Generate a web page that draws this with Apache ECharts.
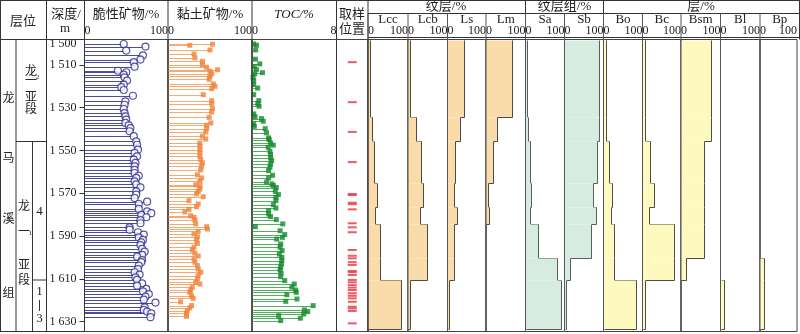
<!DOCTYPE html>
<html><head><meta charset="utf-8">
<script src="https://cdn.jsdelivr.net/npm/echarts@6/dist/echarts.min.js"></script>
<style>html,body{margin:0;padding:0;background:#fff}#c{width:800px;height:334px}</style>
</head><body><div id="c"></div>
<script>
// ---------------- data ----------------
const depthLabels = [1500, 1510, 1530, 1550, 1570, 1590, 1610, 1630];
const depthTicks = [1510, 1530, 1550, 1570, 1590, 1610, 1630];

const brittleDepth = [1500.2,1501.4,1503.3,1505.5,1507.5,1508.7,1510.8,1512.7,1513.4,1514.5,1515.8,1517.3,1519.2,1520.4,1521.7,1524.4,1527.0,1528.6,1530.6,1532.5,1534.0,1535.6,1537.1,1538.2,1539.5,1541.0,1543.3,1545.7,1547.3,1549.6,1551.1,1552.7,1554.3,1555.8,1557.4,1559.0,1560.5,1561.8,1562.8,1564.4,1565.8,1567.2,1569.1,1570.6,1572.2,1573.9,1575.0,1577.3,1578.4,1579.3,1580.1,1581.2,1582.5,1584.0,1585.9,1587.0,1588.2,1589.3,1590.6,1591.8,1592.9,1594.2,1596.0,1597.3,1598.8,1599.6,1601.2,1602.2,1603.8,1605.4,1606.9,1608.0,1609.3,1610.5,1612.1,1613.2,1614.7,1615.8,1617.1,1618.3,1619.7,1621.1,1623.3,1624.5,1625.3,1626.1,1627.9];
const brittle = [47,73,50,70,67,59,60,40,50,47,48,51,47,44,47,58,49,48,47,48,49,50,49,53,55,54,59,62,63,64,60,63,59,61,60,60,60,65,62,60,62,67,62,62,60,75,65,65,75,80,68,74,67,67,54,54,64,71,65,70,68,67,69,72,69,63,69,68,65,64,60,66,61,63,69,63,74,70,77,73,71,85,72,71,75,80,79];

const clayDepth = [1500.3,1500.8,1503.0,1504.9,1506.7,1508.3,1509.9,1511.1,1512.2,1512.9,1514.1,1515.3,1516.7,1518.9,1520.0,1521.1,1523.9,1526.7,1528.2,1530.4,1532.0,1534.5,1537.1,1538.2,1539.8,1541.3,1543.3,1544.6,1546.5,1548.0,1549.6,1551.1,1552.7,1554.3,1555.8,1557.4,1559.0,1561.3,1562.8,1564.4,1566.0,1566.6,1568.0,1569.1,1570.3,1571.6,1573.4,1575.0,1576.3,1577.5,1578.7,1580.5,1581.2,1582.5,1584.3,1585.6,1586.7,1587.8,1589.0,1590.3,1591.8,1593.4,1595.2,1596.5,1598.0,1599.3,1600.7,1602.2,1603.8,1605.4,1606.9,1608.5,1610.1,1611.6,1612.4,1613.9,1615.2,1616.3,1617.9,1619.1,1620.7,1622.5,1623.6,1624.9,1626.1,1627.5];
const clay = [53,26,50,31,32,41,41,46,59,50,52,50,49,54,56,52,42,52,52,53,52,49,51,46,46,45,41,45,38,38,38,38,38,39,41,40,39,35,40,38,33,38,38,36,34,42,25,36,34,25,20,27,31,32,33,46,47,36,31,35,34,35,31,29,32,36,31,32,35,36,39,36,35,33,38,29,27,26,28,30,15,28,26,23,22,22];

const tocDepth = [1500.2,1500.8,1503.0,1507.3,1509.5,1510.8,1512.2,1513.6,1514.2,1515.8,1517.3,1519.2,1520.8,1523.9,1526.7,1528.2,1529.3,1532.9,1534.2,1535.1,1536.3,1537.6,1538.7,1539.8,1541.7,1544.1,1544.9,1546.5,1547.5,1548.5,1550.4,1551.9,1553.5,1554.7,1556.3,1557.8,1559.4,1561.6,1562.8,1564.7,1565.6,1566.4,1567.3,1569.1,1570.6,1571.9,1573.4,1575.3,1576.9,1578.1,1579.7,1580.9,1582.3,1584.3,1585.6,1587.5,1589.3,1590.6,1591.4,1593.7,1595.2,1596.8,1598.4,1599.9,1601.5,1603.0,1604.6,1605.8,1607.4,1609.0,1610.8,1612.4,1613.9,1615.2,1616.3,1617.4,1619.4,1620.5,1622.5,1624.5,1625.3,1626.4,1627.2,1628.4,1629.5];
const toc = [0.16,0.42,0.35,0.32,0.74,0.22,0.42,0.99,0.26,0.1,0.16,0.16,0.54,0.16,0.64,0.54,0.67,0.16,0.29,0.9,1.06,0.16,0.22,1.25,1.38,1.57,1.63,1.76,2.02,1.54,1.7,1.76,1.76,1.86,1.76,1.7,1.57,1.95,1.57,1.38,1.89,2.02,2.3,2.21,2.5,2.27,2.27,2.02,2.27,1.57,1.57,1.76,2.3,2.91,0.32,2.66,3.1,2.88,2.34,2.72,2.66,2.85,2.59,2.82,2.82,2.78,2.72,2.66,2.75,2.72,3.1,4.0,3.78,4.13,4.19,3.3,4.26,3.2,5.79,4.96,5.28,4.9,2.53,4.58,2.72];

const sampleDepth = [1508.7,1527.4,1541.3,1555.4,1570.3,1570.8,1574.4,1575.1,1577.5,1584.0,1585.9,1588.2,1596.5,1599.2,1600.4,1602.2,1603.5,1606.3,1606.9,1608.2,1610.5,1611.6,1612.9,1614.1,1615.2,1616.7,1617.9,1619.1,1620.7,1623.0,1623.8,1625.0,1630.8];

// interval boundaries (depth, m) for the stepped lithofacies columns
const layerBounds = [1498.1, 1534.5, 1545.4, 1565.3, 1576.5, 1584.3, 1600.4, 1610.5, 1633.3];
const lcc = [4, 10, 14, 22, 18, 29, 29, 83];
const lcb = [4, 21, 32, 37, 30, 47, 47, 4];
const ls  = [44, 33, 20, 16, 24, 16, 16, 4];
const lm  = [65, 29, 17, 4, 8, 0, 0, 0];
const sa  = [3, 6, 12, 15, 12, 32, 80, 91];
const sb  = [89, 89, 83, 74, 81, 69, 13, 4];
const bo  = [6, 6, 14, 23, 19, 28, 28, 83];
const bc  = [7, 7, 20, 30, 17, 83, 83, 7];
const bsm = [76, 76, 59, 59, 59, 59, 12, 0];
const bl  = [0, 0, 0, 0, 0, 0, 0, 10];
const bp  = [0, 0, 0, 0, 0, 0, 12, 12];
const panelNames = ['Lcc', 'Lcb', 'Ls', 'Lm', 'Sa', 'Sb', 'Bo', 'Bc', 'Bsm', 'Bl', 'Bp'];
const panelValues = [lcc, lcb, ls, lm, sa, sb, bo, bc, bsm, bl, bp];

// ---------------- layout ----------------
const SERIF = '"Liberation Serif","Noto Sans CJK SC"';
const CJK = '"Noto Sans CJK SC"';
const TOP = 39.5, H = 292;
const YMIN = 1498.1, YMAX = 1634.6;
const G = [[84.5,83.5],[168,84],[252,84.5],[336.5,31.5],
  [368,40],[408,39.5],[447.5,38.5],[486,39.5],[525.5,39],[564.5,39],[603.5,39],[642.5,38.5],[681,39.5],[720.5,39.5],[760,39.5]];
const PANEL_FILL = ['#f9dcaa','#f9dcaa','#f9dcaa','#f9dcaa','#d6ece0','#d6ece0','#fdf9bf','#fdf9bf','#fdf9bf','#fdf9bf','#fdf9bf'];
const PANEL_LINE = ['#4e4a44','#4e4a44','#4e4a44','#4e4a44','#56615a','#56615a','#4e4d44','#4e4d44','#4e4d44','#4e4d44','#4e4d44'];

const grid = G.map(([l, w]) => ({left: l, top: TOP, width: w, height: H, show: true, borderColor: '#444', borderWidth: 1}));

function xAx(i, max, showLabels) {
  return {gridIndex: i, type: 'value', position: 'top', min: 0, max: max, interval: max,
    axisLine: {show: false}, axisTick: {show: false}, splitLine: {show: false},
    axisLabel: {show: showLabels, margin: 3, fontSize: 12, color: '#222', fontFamily: SERIF,
      showMinLabel: true, showMaxLabel: true, alignMinLabel: 'left', alignMaxLabel: 'right'}};
}
const xAxis = [xAx(0, 100, true), xAx(1, 100, true), xAx(2, 8, true), xAx(3, 1, false)];
for (let i = 0; i < panelNames.length; i++) xAxis.push(xAx(4 + i, 100, true));

const yAxis = G.map((g, i) => ({
  gridIndex: i, type: 'value', inverse: true, min: YMIN, max: YMAX,
  show: i === 0, position: 'left',
  axisLine: {show: false}, splitLine: {show: false},
  axisTick: {show: i === 0, length: 5, customValues: depthTicks, lineStyle: {color: '#333'}},
  axisLabel: {show: i === 0, customValues: depthLabels, margin: 8, fontSize: 12, color: '#222', fontFamily: SERIF,
    formatter: v => String(v).slice(0, 1) + ' ' + String(v).slice(1)}
}));

function stemSeries(gi, depth, vals, color, width) {
  return {type: 'custom', xAxisIndex: gi, yAxisIndex: gi, silent: true, z: 2,
    data: vals.map((v, i) => [v, depth[i]]),
    renderItem: (p, api) => {
      const a = api.coord([0, api.value(1)]), b = api.coord([api.value(0), api.value(1)]);
      const y = Math.round(a[1]) + 0.5;
      return {type: 'line', shape: {x1: a[0], y1: y, x2: b[0], y2: y}, style: {stroke: color, lineWidth: width}};
    }};
}
function markSeries(gi, depth, vals, symbol, size, itemStyle) {
  return {type: 'scatter', xAxisIndex: gi, yAxisIndex: gi, silent: true, z: 5,
    symbol: symbol, symbolSize: size, itemStyle: itemStyle,
    data: vals.map((v, i) => [v, depth[i]])};
}
// stepped column: each interval = [value, top, bottom, nextValue]
function fillSeries(gi, vals, fill, stroke) {
  const data = vals.map((v, i) => [v, layerBounds[i], layerBounds[i + 1], i + 1 < vals.length ? vals[i + 1] : 0]);
  return {type: 'custom', xAxisIndex: gi, yAxisIndex: gi, silent: true, z: 3, data: data,
    renderItem: (p, api) => {
      const a = api.coord([0, api.value(1)]);
      const b = api.coord([api.value(0), api.value(2)]);
      const c = api.coord([api.value(3), api.value(2)]);
      const xr = Math.round(b[0]) + 0.5, y1 = Math.round(a[1]) + 0.5, y2 = Math.round(b[1]) + 0.5;
      const kids = [];
      if (api.value(0) > 0) {
        kids.push({type: 'rect', shape: {x: a[0], y: y1, width: xr - a[0], height: y2 - y1}, style: {fill: fill}});
        kids.push({type: 'line', shape: {x1: xr, y1: y1, x2: xr, y2: y2}, style: {stroke: stroke, lineWidth: 1}});
      }
      const xn = Math.round(c[0]) + 0.5;
      if (xn !== xr) kids.push({type: 'line', shape: {x1: Math.min(xr, xn), y1: y2, x2: Math.max(xr, xn), y2: y2}, style: {stroke: stroke, lineWidth: 1}});
      return {type: 'group', children: kids};
    }};
}

const series = [
  stemSeries(0, brittleDepth, brittle, '#4b4b9c', 1),
  markSeries(0, brittleDepth, brittle, 'circle', 7, {color: '#ffffff', borderColor: '#2b2b8a', borderWidth: 1.2}),
  stemSeries(1, clayDepth, clay, '#f6ab72', 1),
  markSeries(1, clayDepth, clay, 'rect', 5, {color: '#f0823a'}),
  stemSeries(2, tocDepth, toc, '#52b05e', 1),
  markSeries(2, tocDepth, toc, 'rect', 5, {color: '#12882a'}),
  markSeries(3, sampleDepth, sampleDepth.map(() => 0.5), 'rect', [9, 2], {color: '#e8404a', opacity: 0.85})
];
panelValues.forEach((vals, k) => { series.push(fillSeries(4 + k, vals, PANEL_FILL[k], PANEL_LINE[k])); });

// ---------------- header / table graphics ----------------
const LC = '#333';
function L(x1, y1, x2, y2, w, c) { return {type: 'line', z: 100, silent: true, shape: {x1, y1, x2, y2}, style: {stroke: c || LC, lineWidth: w || 1}}; }
function T(text, x, y, font, extra) { return Object.assign({type: 'text', z: 100, silent: true, x: x, y: y,
  style: {text: text, font: font, fill: '#222', textAlign: 'center', textVerticalAlign: 'middle'}}, extra || {}); }

const gfx = [
  L(0, 0.5, 800, 0.5), L(0, 39.5, 84.5, 39.5), L(0, 331.5, 84.5, 331.5), L(368, 37.5, 800, 37.5),
  L(0.5, 0.5, 0.5, 331.5), L(16, 39.5, 16, 331.5), L(46.5, 0.5, 46.5, 331.5), L(84.5, 0.5, 84.5, 39.5),
  L(168, 0.5, 168, 39.5), L(252, 0.5, 252, 39.5), L(336.5, 0.5, 336.5, 39.5), L(368, 0.5, 368, 39.5),
  L(368, 13.5, 800, 13.5), L(525.5, 0.5, 525.5, 39.5), L(603.5, 0.5, 603.5, 39.5), L(799.5, 0.5, 799.5, 39.5),
  L(16, 141.5, 46.5, 141.5), L(32.5, 141.5, 32.5, 331.5), L(32.5, 280, 46.5, 280),
  L(39.5, 300, 39.5, 311)
];
G.forEach(([l, w], i) => { if (i >= 4) gfx.push(L(l, 13.5, l, 331.5, 1, '#555')); });
gfx.push(L(336.5, 39.5, 336.5, 331.5), L(368, 39.5, 368, 331.5), L(168, 39.5, 168, 331.5), L(252, 39.5, 252, 331.5), L(84.5, 39.5, 84.5, 331.5));

gfx.push(
  T('层位', 23, 20, '13px ' + CJK),
  T('深度/', 66, 15, '13px ' + SERIF), T('m', 65, 29, '13px ' + SERIF),
  T('脆性矿物/%', 126, 15, '13px ' + SERIF),
  T('黏土矿物/%', 210, 15, '13px ' + SERIF),
  T('TOC/%', 294, 15, 'italic 13px ' + SERIF),
  T('取样', 352, 13, '13px ' + CJK), T('位置', 352, 28, '13px ' + CJK),
  T('纹层/%', 446, 7, '13px ' + SERIF),
  T('纹层组/%', 564.5, 7, '13px ' + SERIF),
  T('层/%', 701, 7, '13px ' + SERIF)
);
panelNames.forEach((n, k) => { const [l, w] = G[4 + k]; gfx.push(T(n, l + w / 2, 20, '13px ' + SERIF)); });
// stratigraphic column
[['龙', 97], ['马', 157], ['溪', 218], ['组', 292]].forEach(([c, y]) => gfx.push(T(c, 8.5, y, '12px ' + CJK)));
[['龙', 70], ['一', 80], ['亚', 96], ['段', 108.5]].forEach(([c, y]) => gfx.push(T(c, 31, y, '12px ' + CJK)));
gfx.push(T('2', 37.5, 77, '7px ' + SERIF));
[['龙', 205], ['一', 231], ['亚', 264], ['段', 279]].forEach(([c, y]) => gfx.push(T(c, 24, y, '12px ' + CJK)));
gfx.push(T('1', 30.5, 233, '7px ' + SERIF));
gfx.push(T('4', 39.5, 212, '13px ' + SERIF), T('1', 39.5, 292, '13px ' + SERIF), T('3', 39.5, 319, '13px ' + SERIF));

const chart = echarts.init(document.getElementById('c'), null, {renderer: 'canvas'});
chart.setOption({animation: false, backgroundColor: '#fff', grid, xAxis, yAxis, series, graphic: gfx});
</script></body></html>
